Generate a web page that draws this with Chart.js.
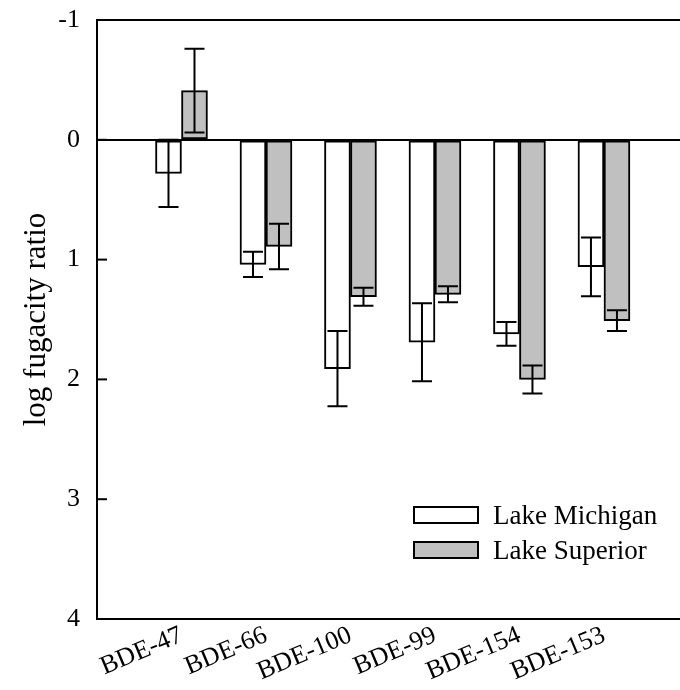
<!DOCTYPE html>
<html>
<head>
<meta charset="utf-8">
<script src="https://cdn.jsdelivr.net/npm/chart.js@4.4.1/dist/chart.umd.min.js"></script>
<style>
  html, body { margin: 0; padding: 0; background: #fff; }
  #canvas { display: block; }
</style>
</head>
<body>
<canvas id="canvas" width="680" height="690"></canvas>
<script>
"use strict";

// congeners along the x axis
const congeners = ['BDE-47', 'BDE-66', 'BDE-100', 'BDE-99', 'BDE-154', 'BDE-153'];

// mean log fugacity ratio and its error, per lake
const michigan = [0.28, 1.04, 1.91, 1.69, 1.62, 1.06];
const michiganErr = [0.28, 0.105, 0.315, 0.325, 0.10, 0.245];
const superior = [-0.41, 0.89, 1.31, 1.29, 2.00, 1.51];
const superiorErr = [0.35, 0.19, 0.075, 0.067, 0.117, 0.087];

const yTicks = [-1, 0, 1, 2, 3, 4];

const serif = '"Liberation Serif", "Times New Roman", serif';

function points(values) {
    return values.map((v, i) => ({ x: i + 1, y: v }));
}

// vertical error whiskers with caps on each bar
const errorBars = {
    id: 'errorBars',
    afterDatasetsDraw(chart) {
        let ctx = chart.ctx;
        let yScale = chart.scales.y;
        ctx.save();
        ctx.strokeStyle = '#000';
        ctx.lineWidth = 2;
        chart.data.datasets.forEach((ds, i) => {
            let meta = chart.getDatasetMeta(i);
            meta.data.forEach((bar, j) => {
                let v = ds.data[j].y;
                let e = ds.errors[j];
                let y1 = yScale.getPixelForValue(v - e);
                let y2 = yScale.getPixelForValue(v + e);
                ctx.beginPath();
                ctx.moveTo(bar.x, y1);
                ctx.lineTo(bar.x, y2);
                ctx.moveTo(bar.x - 10, y1);
                ctx.lineTo(bar.x + 10, y1);
                ctx.moveTo(bar.x - 10, y2);
                ctx.lineTo(bar.x + 10, y2);
                ctx.stroke();
            });
        });
        ctx.restore();
    }
};

// inward tick marks on the left axis
const innerTicks = {
    id: 'innerTicks',
    afterDraw(chart) {
        let ctx = chart.ctx;
        let area = chart.chartArea;
        let yScale = chart.scales.y;
        ctx.save();
        ctx.strokeStyle = '#000';
        ctx.lineWidth = 2;
        yTicks.forEach(t => {
            let y = yScale.getPixelForValue(t);
            ctx.beginPath();
            ctx.moveTo(area.left, y);
            ctx.lineTo(area.left + 10, y);
            ctx.stroke();
        });
        ctx.restore();
    }
};

// legend in the lower right of the plot
const boxLegend = {
    id: 'boxLegend',
    afterDraw(chart) {
        let ctx = chart.ctx;
        let area = chart.chartArea;
        let left = area.right - 266;
        let top = area.bottom - 112;
        ctx.save();
        ctx.font = '27px ' + serif;
        ctx.textBaseline = 'middle';
        chart.data.datasets.forEach((ds, i) => {
            let y = top + i * 35;
            ctx.fillStyle = ds.backgroundColor;
            ctx.fillRect(left, y, 64, 16);
            ctx.strokeStyle = '#000';
            ctx.lineWidth = 2;
            ctx.strokeRect(left, y, 64, 16);
            ctx.fillStyle = '#000';
            ctx.fillText(ds.label, left + 79, y + 10);
        });
        ctx.restore();
    }
};

new Chart(document.getElementById('canvas'), {
    type: 'bar',
    data: {
        datasets: [{
            label: 'Lake Michigan',
            data: points(michigan),
            errors: michiganErr,
            backgroundColor: '#ffffff',
            borderColor: '#000000',
            borderWidth: 2,
            borderSkipped: false
        }, {
            label: 'Lake Superior',
            data: points(superior),
            errors: superiorErr,
            backgroundColor: '#c0c0c0',
            borderColor: '#000000',
            borderWidth: 2,
            borderSkipped: false
        }]
    },
    options: {
        responsive: false,
        animation: false,
        barThickness: 26,
        layout: { padding: { top: 20, right: 0, left: 0, bottom: 0 } },
        plugins: {
            legend: { display: false },
            tooltip: { enabled: false }
        },
        scales: {
            x: {
                type: 'linear',
                offset: false,
                min: 0,
                max: 6.9,
                afterBuildTicks: scale => {
                    scale.ticks = congeners.map((_, i) => ({ value: i + 1 }));
                },
                afterFit: scale => { scale.height = 71; },
                grid: { display: false },
                border: { display: true, color: '#000', width: 2 },
                ticks: {
                    autoSkip: false,
                    minRotation: 23,
                    maxRotation: 23,
                    padding: -7,
                    color: '#000',
                    font: { family: serif, size: 26 },
                    callback: v => congeners[v - 1] || ''
                }
            },
            y: {
                reverse: true,
                min: -1,
                max: 4,
                afterBuildTicks: scale => {
                    scale.ticks = yTicks.map(v => ({ value: v }));
                },
                afterFit: scale => {
                    scale.width = 97;
                    scale.paddingTop = 0;
                    scale.paddingBottom = 0;
                },
                grid: {
                    drawTicks: false,
                    color: c => (c.tick && (c.tick.value === 0 || c.tick.value === -1)) ? '#000' : 'rgba(0,0,0,0)',
                    lineWidth: 2
                },
                border: { display: true, color: '#000', width: 2 },
                ticks: {
                    padding: 17,
                    color: '#000',
                    font: { family: serif, size: 26 }
                },
                title: {
                    display: true,
                    text: 'log fugacity ratio',
                    color: '#000',
                    font: { family: serif, size: 31 },
                    padding: { top: 18, bottom: 0 }
                }
            }
        }
    },
    plugins: [errorBars, innerTicks, boxLegend]
});
</script>
</body>
</html>
